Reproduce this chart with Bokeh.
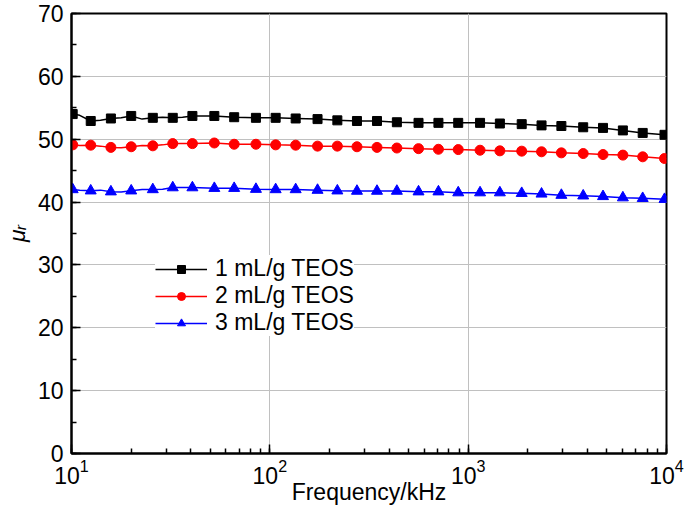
import numpy as np
from bokeh.plotting import figure
from bokeh.models import Range1d, SingleIntervalTicker, LogTicker, Legend, LegendItem
from bokeh.embed import file_html
from bokeh.resources import INLINE

# marker positions (kHz)
freq = [10.14, 12.5, 15.8, 20.0, 25.7, 32.4, 40.7, 52.5, 66.1, 85.1,
        107, 135, 174, 219, 275, 347, 437, 562, 708, 891,
        1148, 1445, 1862, 2344, 2951, 3802, 4786, 6026, 7586, 9772]
mu_1 = [54.0, 52.9, 53.3, 53.7, 53.4, 53.4, 53.7, 53.7, 53.5, 53.4,
        53.4, 53.3, 53.2, 53.0, 52.9, 52.9, 52.7, 52.6, 52.6, 52.6,
        52.6, 52.5, 52.4, 52.2, 52.1, 51.9, 51.8, 51.4, 51.0, 50.7]
mu_2 = [49.1, 49.05, 48.7, 48.8, 48.95, 49.3, 49.3, 49.4, 49.2, 49.2,
        49.1, 49.05, 48.9, 48.9, 48.8, 48.7, 48.6, 48.5, 48.4, 48.35,
        48.25, 48.15, 48.1, 48.0, 47.83, 47.72, 47.56, 47.47, 47.2, 46.93]
mu_3 = [42.0, 41.8, 41.65, 41.8, 42.0, 42.3, 42.3, 42.2, 42.2, 42.05,
        42.0, 42.0, 41.9, 41.8, 41.75, 41.75, 41.75, 41.65, 41.65, 41.5,
        41.5, 41.5, 41.4, 41.3, 41.1, 41.0, 40.9, 40.7, 40.6, 40.45]

# extra (unmarked) points of the measured curves: low-frequency noise and end point
freq_extra = [10.0, 10.05, 11.0, 14.0, 17.8, 22.7, 28.8, 36.3, 10000]
mu_1_extra = [55.0, 53.8, 53.8, 53.0, 53.4, 53.2, 53.5, 53.5, 50.6]
mu_2_extra = [49.4, 49.3, 49.0, 48.9, 48.65, 49.0, 49.1, 49.3, 46.9]
mu_3_extra = [42.1, 42.05, 41.9, 41.9, 41.6, 42.0, 42.05, 42.3, 40.4]

labels = ["1 mL/g TEOS", "2 mL/g TEOS", "3 mL/g TEOS"]
colors = ["#000000", "#ff0000", "#0000ff"]
markers = ["square", "circle", "triangle"]
msizes = [9, 10, 11]

FONT = "Liberation Sans"

p = figure(width=685, height=516, x_axis_type="log",
           x_range=Range1d(10, 10000), y_range=Range1d(0, 70),
           output_backend="svg", toolbar_location=None,
           min_border_left=71, min_border_right=19,
           min_border_top=13, min_border_bottom=63)
p.background_fill_color = "white"
p.border_fill_color = "white"
p.outline_line_color = "black"
p.outline_line_width = 2

items = []
for i in range(3):
    ys = [mu_1, mu_2, mu_3][i]
    ye = [mu_1_extra, mu_2_extra, mu_3_extra][i]
    fx = np.array(list(freq) + list(freq_extra), dtype=float)
    fy = np.array(list(ys) + list(ye), dtype=float)
    o = np.argsort(fx)
    r1 = p.line(fx[o], fy[o], line_color=colors[i], line_width=1.5)
    r2 = p.scatter(freq, ys, marker=markers[i], size=msizes[i],
                   fill_color=colors[i], line_color=colors[i])
    items.append(LegendItem(label=labels[i], renderers=[r1, r2]))

legend = Legend(items=items, location=(84, 117), glyph_width=52,
                glyph_height=20, label_height=20, spacing=0, padding=4,
                margin=0, label_standoff=8, border_line_color=None,
                background_fill_color="white", background_fill_alpha=1,
                label_text_font=FONT, label_text_font_size="23px",
                label_text_color="black")
p.add_layout(legend, "center")

# axes
p.yaxis.ticker = SingleIntervalTicker(interval=10, num_minor_ticks=2)
p.xaxis.ticker = LogTicker(num_minor_ticks=10)
for ax in (p.xaxis[0], p.yaxis[0]):
    ax.axis_line_width = 2
    ax.axis_line_color = "black"
    ax.major_tick_in = 9
    ax.major_tick_out = 0
    ax.minor_tick_in = 5
    ax.minor_tick_out = 0
    ax.major_tick_line_width = 1.5
    ax.minor_tick_line_width = 1.5
    ax.major_tick_line_color = "black"
    ax.minor_tick_line_color = "black"
    ax.major_label_text_font = FONT
    ax.major_label_text_font_size = "23px"
    ax.major_label_text_color = "black"
    ax.axis_label_text_font = FONT
    ax.axis_label_text_font_size = "23px"
    ax.axis_label_text_color = "black"
    ax.axis_label_text_font_style = "normal"

p.xaxis.axis_label = "Frequency/kHz"
p.xaxis.major_label_standoff = 5
p.xaxis.axis_label_standoff = -8
p.yaxis.axis_label = "μᵣ"
p.yaxis.axis_label_text_font_style = "italic"
p.yaxis.major_label_standoff = 8
p.yaxis.axis_label_standoff = 5

p.xgrid.grid_line_color = "#c0c0c0"
p.ygrid.grid_line_color = "#c0c0c0"
p.xgrid.grid_line_width = 1
p.ygrid.grid_line_width = 1

open("out.html", "w").write(file_html(p, INLINE))
